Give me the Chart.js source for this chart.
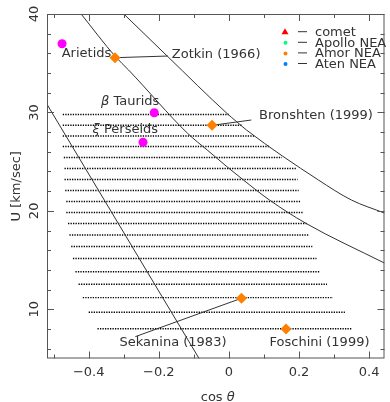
<!DOCTYPE html>
<html>
<head>
<meta charset="utf-8">
<script src="https://cdn.jsdelivr.net/npm/chart.js@4.4.1/dist/chart.umd.min.js"></script>
<style>
  html, body { margin: 0; padding: 0; background: #fff; }
  #wrap { width: 390px; height: 402px; }
</style>
</head>
<body>
<div id="wrap"><canvas id="plot" width="390" height="402"></canvas></div>
<script>
// dotted rows: velocity U (km/s) and cos(theta) extent of each row
var rowU = [29.79, 28.69, 27.61, 26.54, 25.42, 24.30, 23.19, 22.07, 20.95, 19.83,
            18.71, 17.55, 16.38, 15.16, 13.82, 12.54, 11.18, 9.70, 8.03];
var rowStart = [-0.474, -0.474, -0.474, -0.474, -0.471, -0.469, -0.469, -0.467, -0.464, -0.464,
                -0.459, -0.455, -0.450, -0.445, -0.438, -0.429, -0.417, -0.400, -0.375];
var rowEnd = [0.000, 0.039, 0.073, 0.115, 0.151, 0.191, 0.196, 0.199, 0.205, 0.213,
              0.222, 0.227, 0.238, 0.250, 0.261, 0.280, 0.297, 0.331, 0.350];

// model curves
var straightX = [-0.55, -0.06];
var straightU = [32.67, 3.51];
var lowerX = [-0.4217, -0.3235, -0.2862, -0.1179, -0.0618, -0.0057, 0.0412, 0.1158, 0.2193, 0.4437];
var lowerU = [40.0, 35.66, 34.31, 27.88, 26.18, 24.49, 23.14, 21.10, 18.74, 14.70];
var upperX = [-0.2998, -0.174, -0.0057, 0.022, 0.0504, 0.2552, 0.3497, 0.4437];
var upperU = [40.0, 35.66, 29.91, 29.06, 28.21, 23.14, 21.10, 19.78];

// objects
var amorX = [-0.325, -0.048, 0.036, 0.163];
var amorU = [35.56, 28.69, 11.12, 8.00];
var showerX = [-0.476, -0.213, -0.245];
var showerU = [36.98, 29.97, 26.97];

// leader lines [x0, x1], [u0, u1]
var leaderX = [[-0.325, -0.174], [-0.048, 0.064], [-0.267, 0.036]];
var leaderU = [[35.56, 35.73], [28.69, 29.23], [7.22, 11.12]];

// annotations (left edge, vertical centre)
var noteText = ['Arietids', 'Zotkin (1966)', 'β Taurids', 'ξ Perseids', 'Bronshten (1999)', 'Sekanina (1983)', 'Foschini (1999)'];
var noteX = [-0.477, -0.163, -0.365, -0.389, 0.086, -0.312, 0.116];
var noteU = [36.07, 36.04, 31.26, 28.39, 29.81, 6.78, 6.78];

var legendNames = ['comet', 'Apollo NEA', 'Amor NEA', 'Aten NEA'];
var legendColors = ['#ff0000', '#00ff7f', '#ff8000', '#0080ff'];

var yTickLabels = [10, 20, 30, 40];

var FONT = '"DejaVu Sans", sans-serif';
var INK = '#333';

function pts(xs, ys) {
    var out = [];
    for (var i = 0; i < xs.length; i++) out.push({ x: xs[i], y: ys[i] });
    return out;
}

function isMultiple(v, step) {
    var r = v / step;
    return Math.abs(r - Math.round(r)) < 1e-6;
}

function line(ctx, x0, y0, x1, y1) {
    ctx.beginPath();
    ctx.moveTo(x0, y0);
    ctx.lineTo(x1, y1);
    ctx.stroke();
}

// draws text with an italic greek first letter
function drawNote(ctx, text, x, y) {
    var first = text.charAt(0);
    if (/[α-ω]/.test(first)) {
        ctx.font = 'italic 13px ' + FONT;
        ctx.fillText(first, x, y);
        var w = ctx.measureText(first).width;
        ctx.font = '13px ' + FONT;
        ctx.fillText(text.slice(1), x + w, y);
    } else {
        ctx.font = '13px ' + FONT;
        ctx.fillText(text, x, y);
    }
}

var decor = {
    id: 'decor',
    afterDraw: function (chart) {
        var ctx = chart.ctx, a = chart.chartArea;
        var xs = chart.scales.x, ys = chart.scales.y;
        ctx.save();

        // frame and inward ticks
        ctx.strokeStyle = '#555';
        ctx.lineWidth = 1;
        ctx.strokeRect(a.left + 0.5, a.top + 0.5, a.right - a.left - 1, a.bottom - a.top - 1);
        xs.ticks.forEach(function (t) {
            var px = Math.round(xs.getPixelForValue(t.value)) + 0.5;
            var len = isMultiple(t.value, 0.2) ? 7 : 4;
            line(ctx, px, a.bottom, px, a.bottom - len);
            line(ctx, px, a.top, px, a.top + len);
        });
        ys.ticks.forEach(function (t) {
            var py = Math.round(ys.getPixelForValue(t.value)) + 0.5;
            var len = isMultiple(t.value, 10) ? 7 : 4;
            line(ctx, a.left, py, a.left + len, py);
            line(ctx, a.right, py, a.right - len, py);
        });

        ctx.fillStyle = INK;
        ctx.textBaseline = 'alphabetic';

        // rotated y tick labels and axis title
        ctx.textAlign = 'center';
        ctx.font = '13px ' + FONT;
        yTickLabels.forEach(function (v) {
            ctx.save();
            ctx.translate(38, ys.getPixelForValue(v));
            ctx.rotate(-Math.PI / 2);
            ctx.fillText(String(v), 0, 0);
            ctx.restore();
        });
        ctx.save();
        ctx.translate(20, (a.top + a.bottom) / 2);
        ctx.rotate(-Math.PI / 2);
        ctx.fillText('U [km/sec]', 0, 0);
        ctx.restore();

        // x axis title
        ctx.textAlign = 'left';
        var cx = (a.left + a.right) / 2 + 2;
        ctx.font = '13px ' + FONT;
        var w1 = ctx.measureText('cos ').width;
        ctx.font = 'italic 13px ' + FONT;
        var w2 = ctx.measureText('θ').width;
        ctx.font = '13px ' + FONT;
        ctx.fillText('cos ', cx - (w1 + w2) / 2, 401);
        ctx.font = 'italic 13px ' + FONT;
        ctx.fillText('θ', cx - (w1 + w2) / 2 + w1, 401);

        // annotations
        for (var i = 0; i < noteText.length; i++) {
            drawNote(ctx, noteText[i], xs.getPixelForValue(noteX[i]), ys.getPixelForValue(noteU[i]) + 4.7);
        }

        // legend
        ctx.font = '13px ' + FONT;
        ctx.strokeStyle = INK;
        for (var k = 0; k < legendNames.length; k++) {
            var base = 36 + k * 10.6;
            var my = base - 4.3;
            ctx.fillStyle = legendColors[k];
            ctx.beginPath();
            if (k === 0) {
                ctx.moveTo(285, my - 3.5);
                ctx.lineTo(288.5, my + 2.5);
                ctx.lineTo(281.5, my + 2.5);
                ctx.closePath();
            } else {
                ctx.arc(285.5, my + 0.5, 2, 0, 2 * Math.PI);
            }
            ctx.fill();
            line(ctx, 298, my, 307, my);
            ctx.fillStyle = INK;
            ctx.fillText(legendNames[k], 315, base);
        }
        ctx.restore();
    }
};

var datasets = [];
datasets.push({
    data: pts(amorX, amorU), showLine: false, pointStyle: 'rectRot',
    pointRadius: 5.5, backgroundColor: '#ff8000', borderColor: '#ff8000', borderWidth: 0
});
datasets.push({
    data: pts(showerX, showerU), showLine: false, pointStyle: 'circle',
    pointRadius: 4.5, backgroundColor: '#ff00ff', borderColor: '#ff00ff', borderWidth: 0
});
for (var j = 0; j < leaderX.length; j++) {
    datasets.push({
        data: pts(leaderX[j], leaderU[j]), showLine: true, pointRadius: 0,
        borderColor: '#333', borderWidth: 1
    });
}
datasets.push({ data: pts(straightX, straightU), showLine: true, pointRadius: 0, borderColor: '#333', borderWidth: 1 });
datasets.push({ data: pts(lowerX, lowerU), showLine: true, pointRadius: 0, borderColor: '#333', borderWidth: 1, cubicInterpolationMode: 'monotone' });
datasets.push({ data: pts(upperX, upperU), showLine: true, pointRadius: 0, borderColor: '#333', borderWidth: 1, cubicInterpolationMode: 'monotone' });
for (var r = 0; r < rowU.length; r++) {
    datasets.push({
        data: [{ x: rowStart[r], y: rowU[r] }, { x: rowEnd[r], y: rowU[r] }],
        showLine: true, pointRadius: 0, borderColor: '#000', borderWidth: 1.4, borderDash: [1.3, 1.2]
    });
}

new Chart(document.getElementById('plot'), {
    type: 'scatter',
    data: { datasets: datasets },
    options: {
        responsive: false,
        animation: false,
        events: [],
        layout: { padding: { top: 14, right: 0, left: 0, bottom: 0 } },
        plugins: { legend: { display: false }, tooltip: { enabled: false } },
        scales: {
            x: {
                type: 'linear', min: -0.519, max: 0.444,
                grid: { display: false, drawTicks: false },
                border: { display: false },
                afterFit: function (s) { s.height = 43.5; },
                ticks: {
                    stepSize: 0.1, includeBounds: false, autoSkip: false, maxRotation: 0,
                    padding: 6, color: INK, font: { family: FONT, size: 13 },
                    callback: function (v) {
                        if (!isMultiple(v, 0.2)) return '';
                        if (Math.abs(v) < 1e-9) return '0';
                        return (v < 0 ? '\u2212' : '') + Math.abs(v).toFixed(1);
                    }
                }
            },
            y: {
                type: 'linear', min: 5, max: 40,
                grid: { display: false, drawTicks: false },
                border: { display: false },
                afterFit: function (s) { s.width = 47; },
                ticks: { stepSize: 2, includeBounds: false, display: false }
            }
        }
    },
    plugins: [decor]
});
</script>
</body>
</html>
